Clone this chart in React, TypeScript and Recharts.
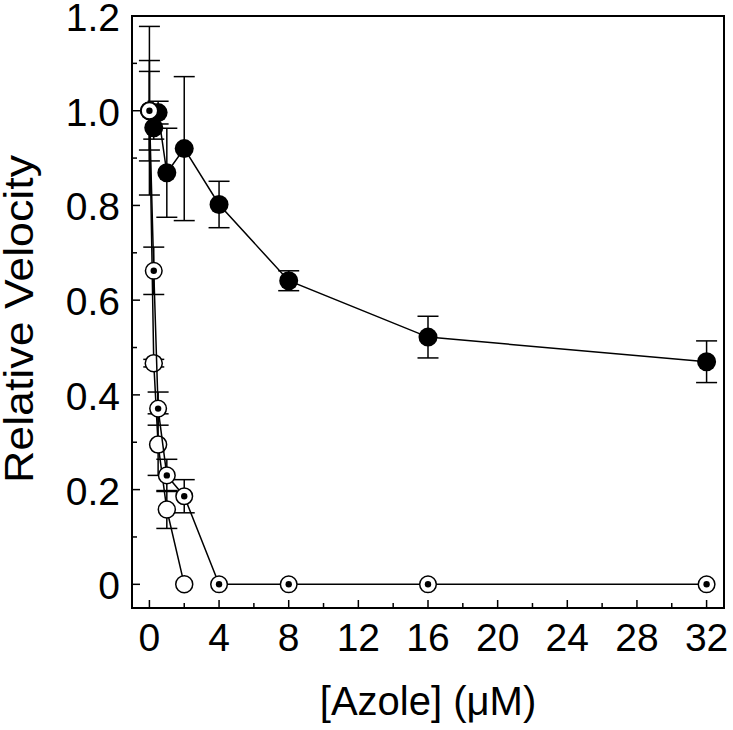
import { ErrorBar, ReferenceArea, Scatter, ScatterChart, XAxis, YAxis } from "recharts";

// [Azole] (uM) and relative velocity
const concFilled = [0, 0.25, 0.5, 1, 2, 4, 8, 16, 32];
const velFilled = [1.0, 0.964, 0.996, 0.869, 0.92, 0.802, 0.641, 0.522, 0.47];
const errFilled = [0.178, 0.024, 0.024, 0.094, 0.152, 0.049, 0.021, 0.044, 0.044];

const concOpen = [0, 0.25, 0.5, 1, 2];
const velOpen = [1.0, 0.467, 0.295, 0.158, 0];
const errOpen = [0.083, 0.008, 0.065, 0.04, 0];

const concDotted = [0, 0.25, 0.5, 1, 2, 4, 8, 16, 32];
const velDotted = [1.0, 0.662, 0.371, 0.23, 0.186, 0, 0, 0, 0];
const errDotted = [0.106, 0.05, 0.035, 0.034, 0.035, 0, 0, 0, 0];

const xMajorTicks = [0, 4, 8, 12, 16, 20, 24, 28, 32];
const xMinorTicks = [2, 6, 10, 14, 18, 22, 26, 30];
const yMajorTicks = [0, 0.2, 0.4, 0.6, 0.8, 1.0, 1.2];
const yMinorTicks = [0.1, 0.3, 0.5, 0.7, 0.9, 1.1];

const FONT = "'Liberation Sans', Arial, Helvetica, sans-serif";

const toRows = (xs: number[], ys: number[], es: number[]) =>
  xs.map((x, i) => ({ x, y: ys[i], err: es[i] > 0 ? es[i] : null }));

const filledData = toRows(concFilled, velFilled, errFilled);
const openData = toRows(concOpen, velOpen, errOpen);
const dottedData = toRows(concDotted, velDotted, errDotted);

const isIn = (list: number[], v: number) => list.some((t) => Math.abs(t - v) < 1e-6);

function XTick(props: any) {
  const { x, y, payload } = props;
  const major = isIn(xMajorTicks, payload.value);
  return (
    <g>
      <line x1={x} y1={y} x2={x} y2={y - (major ? 8 : 5)} stroke="#000" strokeWidth={1.5} />
      {major && (
        <text x={x} y={y + 43} textAnchor="middle" fontSize={39} fontFamily={FONT} fill="#000">
          {payload.value}
        </text>
      )}
    </g>
  );
}

function YTick(props: any) {
  const { x, y, payload } = props;
  const v = payload.value;
  const major = isIn(yMajorTicks, v);
  return (
    <g>
      <line x1={x} y1={y} x2={x + (major ? 8 : 5)} y2={y} stroke="#000" strokeWidth={1.5} />
      {major && (
        <text x={x - 12} y={y + 15} textAnchor="end" fontSize={39} fontFamily={FONT} fill="#000">
          {v === 0 ? "0" : v.toFixed(1)}
        </text>
      )}
    </g>
  );
}

function XTitle(props: any) {
  const { x, width, y } = props.viewBox;
  return (
    <text x={x + width / 2} y={y + 107} textAnchor="middle" fontSize={40} fontFamily={FONT} fill="#000">
      [Azole] (μM)
    </text>
  );
}

function YTitle(props: any) {
  const { y, height } = props.viewBox;
  const cx = 33;
  const cy = y + height / 2 + 7;
  return (
    <text
      x={cx}
      y={cy}
      transform={`rotate(-90 ${cx} ${cy})`}
      textAnchor="middle"
      fontSize={41}
      textLength={328}
      lengthAdjust="spacingAndGlyphs"
      fontFamily={FONT}
      fill="#000"
    >
      Relative Velocity
    </text>
  );
}

const FilledDot = (p: any) => <circle cx={p.cx} cy={p.cy} r={9.5} fill="#000" />;
const OpenDot = (p: any) => <circle cx={p.cx} cy={p.cy} r={8.5} fill="#fff" stroke="#000" strokeWidth={1.5} />;
const DottedDot = (p: any) => (
  <g>
    <circle cx={p.cx} cy={p.cy} r={8.3} fill="#fff" stroke="#000" strokeWidth={1.5} />
    <circle cx={p.cx} cy={p.cy} r={3.2} fill="#000" />
  </g>
);

const lineStyle = { stroke: "#000", strokeWidth: 1.5 };

export default function App() {
  return (
    <div style={{ position: "absolute", left: 0, top: 0, width: 733, height: 730, background: "#fff" }}>
      <ScatterChart width={733} height={730} margin={{ top: 16, right: 9, bottom: 0, left: 0 }}>
        <XAxis
          type="number"
          dataKey="x"
          domain={[-1, 33]}
          allowDataOverflow
          ticks={[...xMajorTicks, ...xMinorTicks].sort((a, b) => a - b)}
          interval={0}
          tickSize={0}
          tickMargin={0}
          tickLine={false}
          axisLine={false}
          tick={<XTick />}
          height={122}
          label={<XTitle />}
        />
        <YAxis
          type="number"
          dataKey="y"
          domain={[-0.05, 1.2]}
          allowDataOverflow
          ticks={[...yMajorTicks, ...yMinorTicks].sort((a, b) => a - b)}
          interval={0}
          tickSize={0}
          tickMargin={0}
          tickLine={false}
          axisLine={false}
          tick={<YTick />}
          width={132}
          label={<YTitle />}
        />
        <ReferenceArea x1={-1} x2={33} y1={-0.05} y2={1.2} fill="none" stroke="#000" strokeWidth={2} ifOverflow="visible" />
        <Scatter data={filledData} line={lineStyle} lineType="joint" shape={FilledDot} isAnimationActive={false}>
          <ErrorBar dataKey="err" direction="y" width={10.5} stroke="#000" strokeWidth={1.5} />
        </Scatter>
        <Scatter data={openData} line={lineStyle} lineType="joint" shape={OpenDot} isAnimationActive={false}>
          <ErrorBar dataKey="err" direction="y" width={10.5} stroke="#000" strokeWidth={1.5} />
        </Scatter>
        <Scatter data={dottedData} line={lineStyle} lineType="joint" shape={DottedDot} isAnimationActive={false}>
          <ErrorBar dataKey="err" direction="y" width={10.5} stroke="#000" strokeWidth={1.5} />
        </Scatter>
      </ScatterChart>
    </div>
  );
}
